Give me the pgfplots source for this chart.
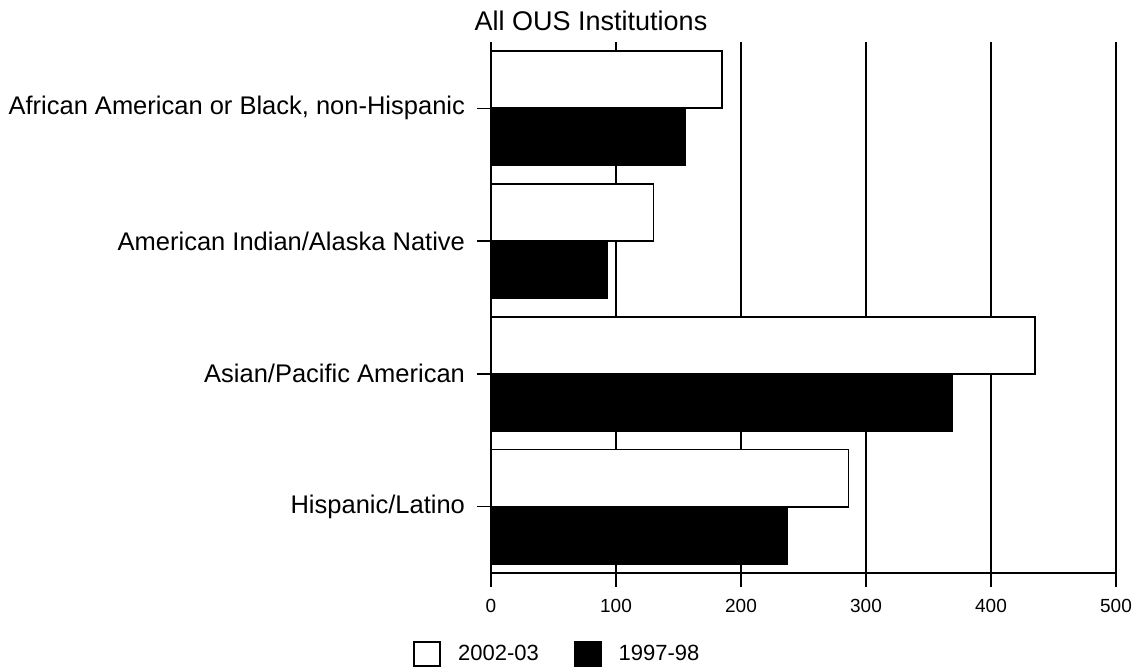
\documentclass[border=0pt]{standalone}
\usepackage{fontspec}
\setmainfont{Liberation Sans}
\usepackage{pgfplots}
\pgfplotsset{compat=1.18}
\begin{document}
\begin{tikzpicture}
\useasboundingbox (0,0) rectangle (567.5pt,335.5pt);
\begin{axis}[
  at={(245.5pt,49pt)}, anchor=south west,
  scale only axis, width=312.5pt, height=265.5pt,
  xbar, bar width=0.43,
  xmin=0, xmax=500, ymin=-0.5, ymax=3.5,
  axis x line=bottom, axis y line=left,
  axis line style={black, line width=0.8pt, -},
  xtick={0,100,200,300,400,500},
  ytick={0,1,2,3},
  yticklabels={Hispanic/Latino, Asian/Pacific American, American Indian/Alaska Native, {African American or Black, non-Hispanic}},
  xmajorgrids, grid style={black, line width=0.8pt},
  tick align=outside, major tick length=7pt,
  tick style={black, line width=0.8pt},
  /pgf/number format/assume math mode=true,
  xticklabel style={font=\fontsize{9.5}{11}\selectfont, yshift=-2.5pt},
  yticklabel style={font=\fontsize{12.75}{15}\selectfont, xshift=-2.5pt},
  title={All OUS Institutions},
  title style={at={(0.16,1)}, anchor=base, font=\fontsize{13.5}{16}\selectfont},
  legend columns=2,
  legend style={at={(-0.1248,-0.1525)}, anchor=west, draw=none, fill=none, inner sep=0pt,
    font=\fontsize{11}{13}\selectfont,
    /tikz/every odd column/.append style={column sep=6.5pt},
    /tikz/every even column/.append style={column sep=15.5pt}},
  legend image code/.code={\draw[#1, line width=0.9pt] (0pt,-6pt) rectangle (13pt,6pt);},
]
\addplot[fill=white, draw=black, line width=0.9pt, bar shift=0.215] coordinates {(185,3) (130,2) (435,1) (286,0)};
\addplot[fill=black, draw=black, line width=0.9pt, bar shift=-0.215] coordinates {(155,3) (93,2) (369,1) (237,0)};
\legend{2002-03, 1997-98}
\end{axis}
\end{tikzpicture}
\end{document}
